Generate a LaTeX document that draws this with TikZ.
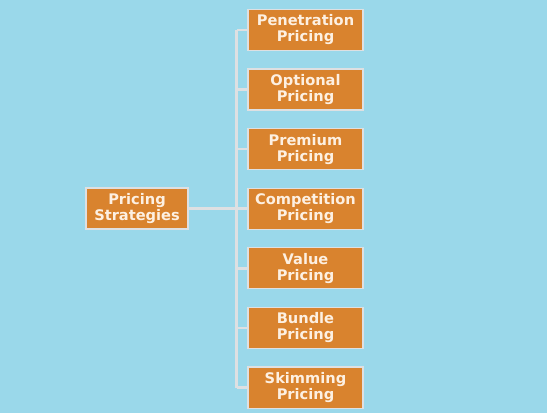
\documentclass[tikz,border=0pt]{standalone}
\usepackage{fontspec}
\setmainfont{DejaVu Sans}
\definecolor{himmel}{RGB}{154,216,234}
\definecolor{orange}{RGB}{217,131,46}
\definecolor{schrift}{RGB}{253,240,226}
\definecolor{linie}{RGB}{222,224,226}
\tikzset{
  kasten/.style={rectangle, fill=orange, draw=linie, line width=1.2pt,
    minimum width=115pt, minimum height=41pt, align=center, inner sep=0pt,
    text=schrift, font=\bfseries\fontsize{14.6}{16}\selectfont},
  verbinder/.style={draw=linie, line width=2.6pt}
}
\begin{document}
\begin{tikzpicture}[x=1pt, y=1pt]
    % Hintergrund
    \fill[himmel] (0,0) rectangle (547,413);
    \useasboundingbox (0,0) rectangle (547,413);

    % Linker Kasten
    \node[kasten, minimum width=102pt] (strategien) at (137,204.5) {Pricing\\Strategies};

    % Rechte Kaesten von oben nach unten
    \node[kasten] (penetration) at (305.5,383) {Penetration\\Pricing};
    \node[kasten] (optional) at (305.5,323.4) {Optional\\Pricing};
    \node[kasten] (premium) at (305.5,263.8) {Premium\\Pricing};
    \node[kasten] (competition) at (305.5,204.2) {Competition\\Pricing};
    \node[kasten] (value) at (305.5,144.6) {Value\\Pricing};
    \node[kasten] (bundle) at (305.5,85) {Bundle\\Pricing};
    \node[kasten] (skimming) at (305.5,25.4) {Skimming\\Pricing};

    % Senkrechter Stamm
    \coordinate (oben) at (236.5,383);
    \coordinate (unten) at (236.5,25.4);
    \draw[verbinder] (oben) -- (unten);

    % Waagerechte Verbindungen
    \draw[verbinder] (strategien.east) -- (strategien.east -| oben);
    \draw[verbinder] (penetration.west) -- (penetration.west -| oben);
    \draw[verbinder] (optional.west) -- (optional.west -| oben);
    \draw[verbinder] (premium.west) -- (premium.west -| oben);
    \draw[verbinder] (competition.west) -- (competition.west -| oben);
    \draw[verbinder] (value.west) -- (value.west -| oben);
    \draw[verbinder] (bundle.west) -- (bundle.west -| oben);
    \draw[verbinder] (skimming.west) -- (skimming.west -| oben);
\end{tikzpicture}
\end{document}
